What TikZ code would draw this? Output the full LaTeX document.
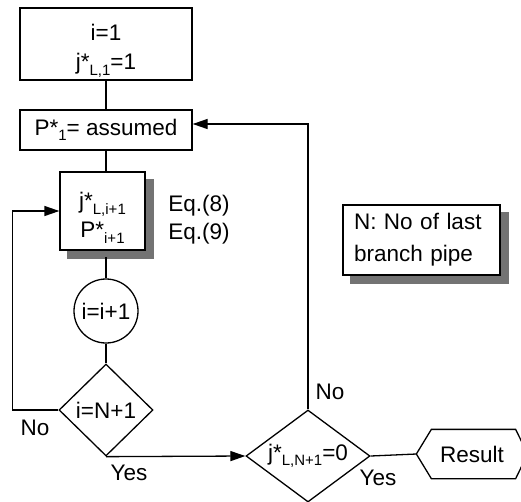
\documentclass[tikz,border=0pt]{standalone}
\usepackage{fontspec}
\setmainfont{Liberation Sans}
\usetikzlibrary{shapes.geometric,arrows.meta,calc}
\newcommand\sbs[1]{\raisebox{-0.45ex}{\fontsize{15}{15}\selectfont #1}}
\begin{document}
\begin{tikzpicture}[x=1pt,y=-1pt,font=\fontsize{22.5}{26}\selectfont,line width=1.3pt,
  box/.style={draw,fill=white,inner sep=0pt},
  shadowfill/.style={fill=black!55,draw=none},
  arr/.style={-{Triangle[length=15pt,width=10pt]}},
  lbl/.style={inner sep=0pt}]
\useasboundingbox (0,0) rectangle (521,501);
\node[box,minimum width=172pt,minimum height=72pt,align=center] (b1) at (106,44) {\rule{0pt}{30pt}i=1\\[3pt]j*\sbs{L,1}=1};
\node[box,minimum width=172pt,minimum height=40pt] (b2) at (106,130) {P*\sbs{1}= assumed};
\node[box,minimum width=85pt,minimum height=78pt,align=center] (b3) at (102.5,211) {\rule{0pt}{30pt}j*\sbs{L,i+1}\\[3pt]P*\sbs{i+1}};
\fill[shadowfill] ($(b3.north east)+(0.65,8)$) rectangle ($(b3.south east)+(8,8)$);
\fill[shadowfill] ($(b3.south west)+(8,0.65)$) rectangle ($(b3.south east)+(8,8)$);
\node[lbl,align=left] (eq) at (199,220) {Eq.(8)\\[2pt]Eq.(9)};
\node[draw,circle,minimum size=64pt,inner sep=0pt] (c) at (106,311) {i=i+1};
\node[draw,diamond,minimum width=94pt,minimum height=92pt,inner sep=0pt] (d1) at (106,410) {i=N+1};
\node[draw,diamond,aspect=1.35,minimum width=124pt,minimum height=92pt,inner sep=0pt] (d2) at (308,456) {j*\sbs{L,N+1}=0};
\node[lbl,minimum width=110pt,minimum height=48pt] (res) at (472,454) {Result};
\draw ($(res.west)$) -- ($(res.north west)+(15,0)$) -- ($(res.north east)+(-12,0)$) -- (res.east)
      -- ($(res.south east)+(-12,0)$) -- ($(res.south west)+(15,0)$) -- cycle;
\node[box,minimum width=157pt,minimum height=70pt,align=left,text width=135pt,inner xsep=11pt] (nb) at (421.5,240) {N: No of last\\[6pt]branch pipe};
\fill[shadowfill] ($(nb.north east)+(0.65,8)$) rectangle ($(nb.south east)+(8,8)$);
\fill[shadowfill] ($(nb.south west)+(8,0.65)$) rectangle ($(nb.south east)+(8,8)$);
\node[lbl] (no1) at (35,428) {No};
\node[lbl] (yes1) at (129,473) {Yes};
\node[lbl] (no2) at (330,392) {No};
\node[lbl] (yes2) at (378,478) {Yes};
\coordinate (turn) at (308,124);
\draw (b1.south) -- (b2.north);
\draw (b2.south) -- (b2.south |- b3.north);
\draw (c.north) -- ++(0,-21);
\draw (c.south) -- (d1.north);
\draw[arr] (d1.west) -- ++(-46,0) |- (b3.west);
\draw[arr] (d1.south) -- (d2.west);
\draw[arr] (d2.north) -- (turn) -- (turn -| b2.east);
\draw (d2.east) -- (res.west);
\end{tikzpicture}
\end{document}
